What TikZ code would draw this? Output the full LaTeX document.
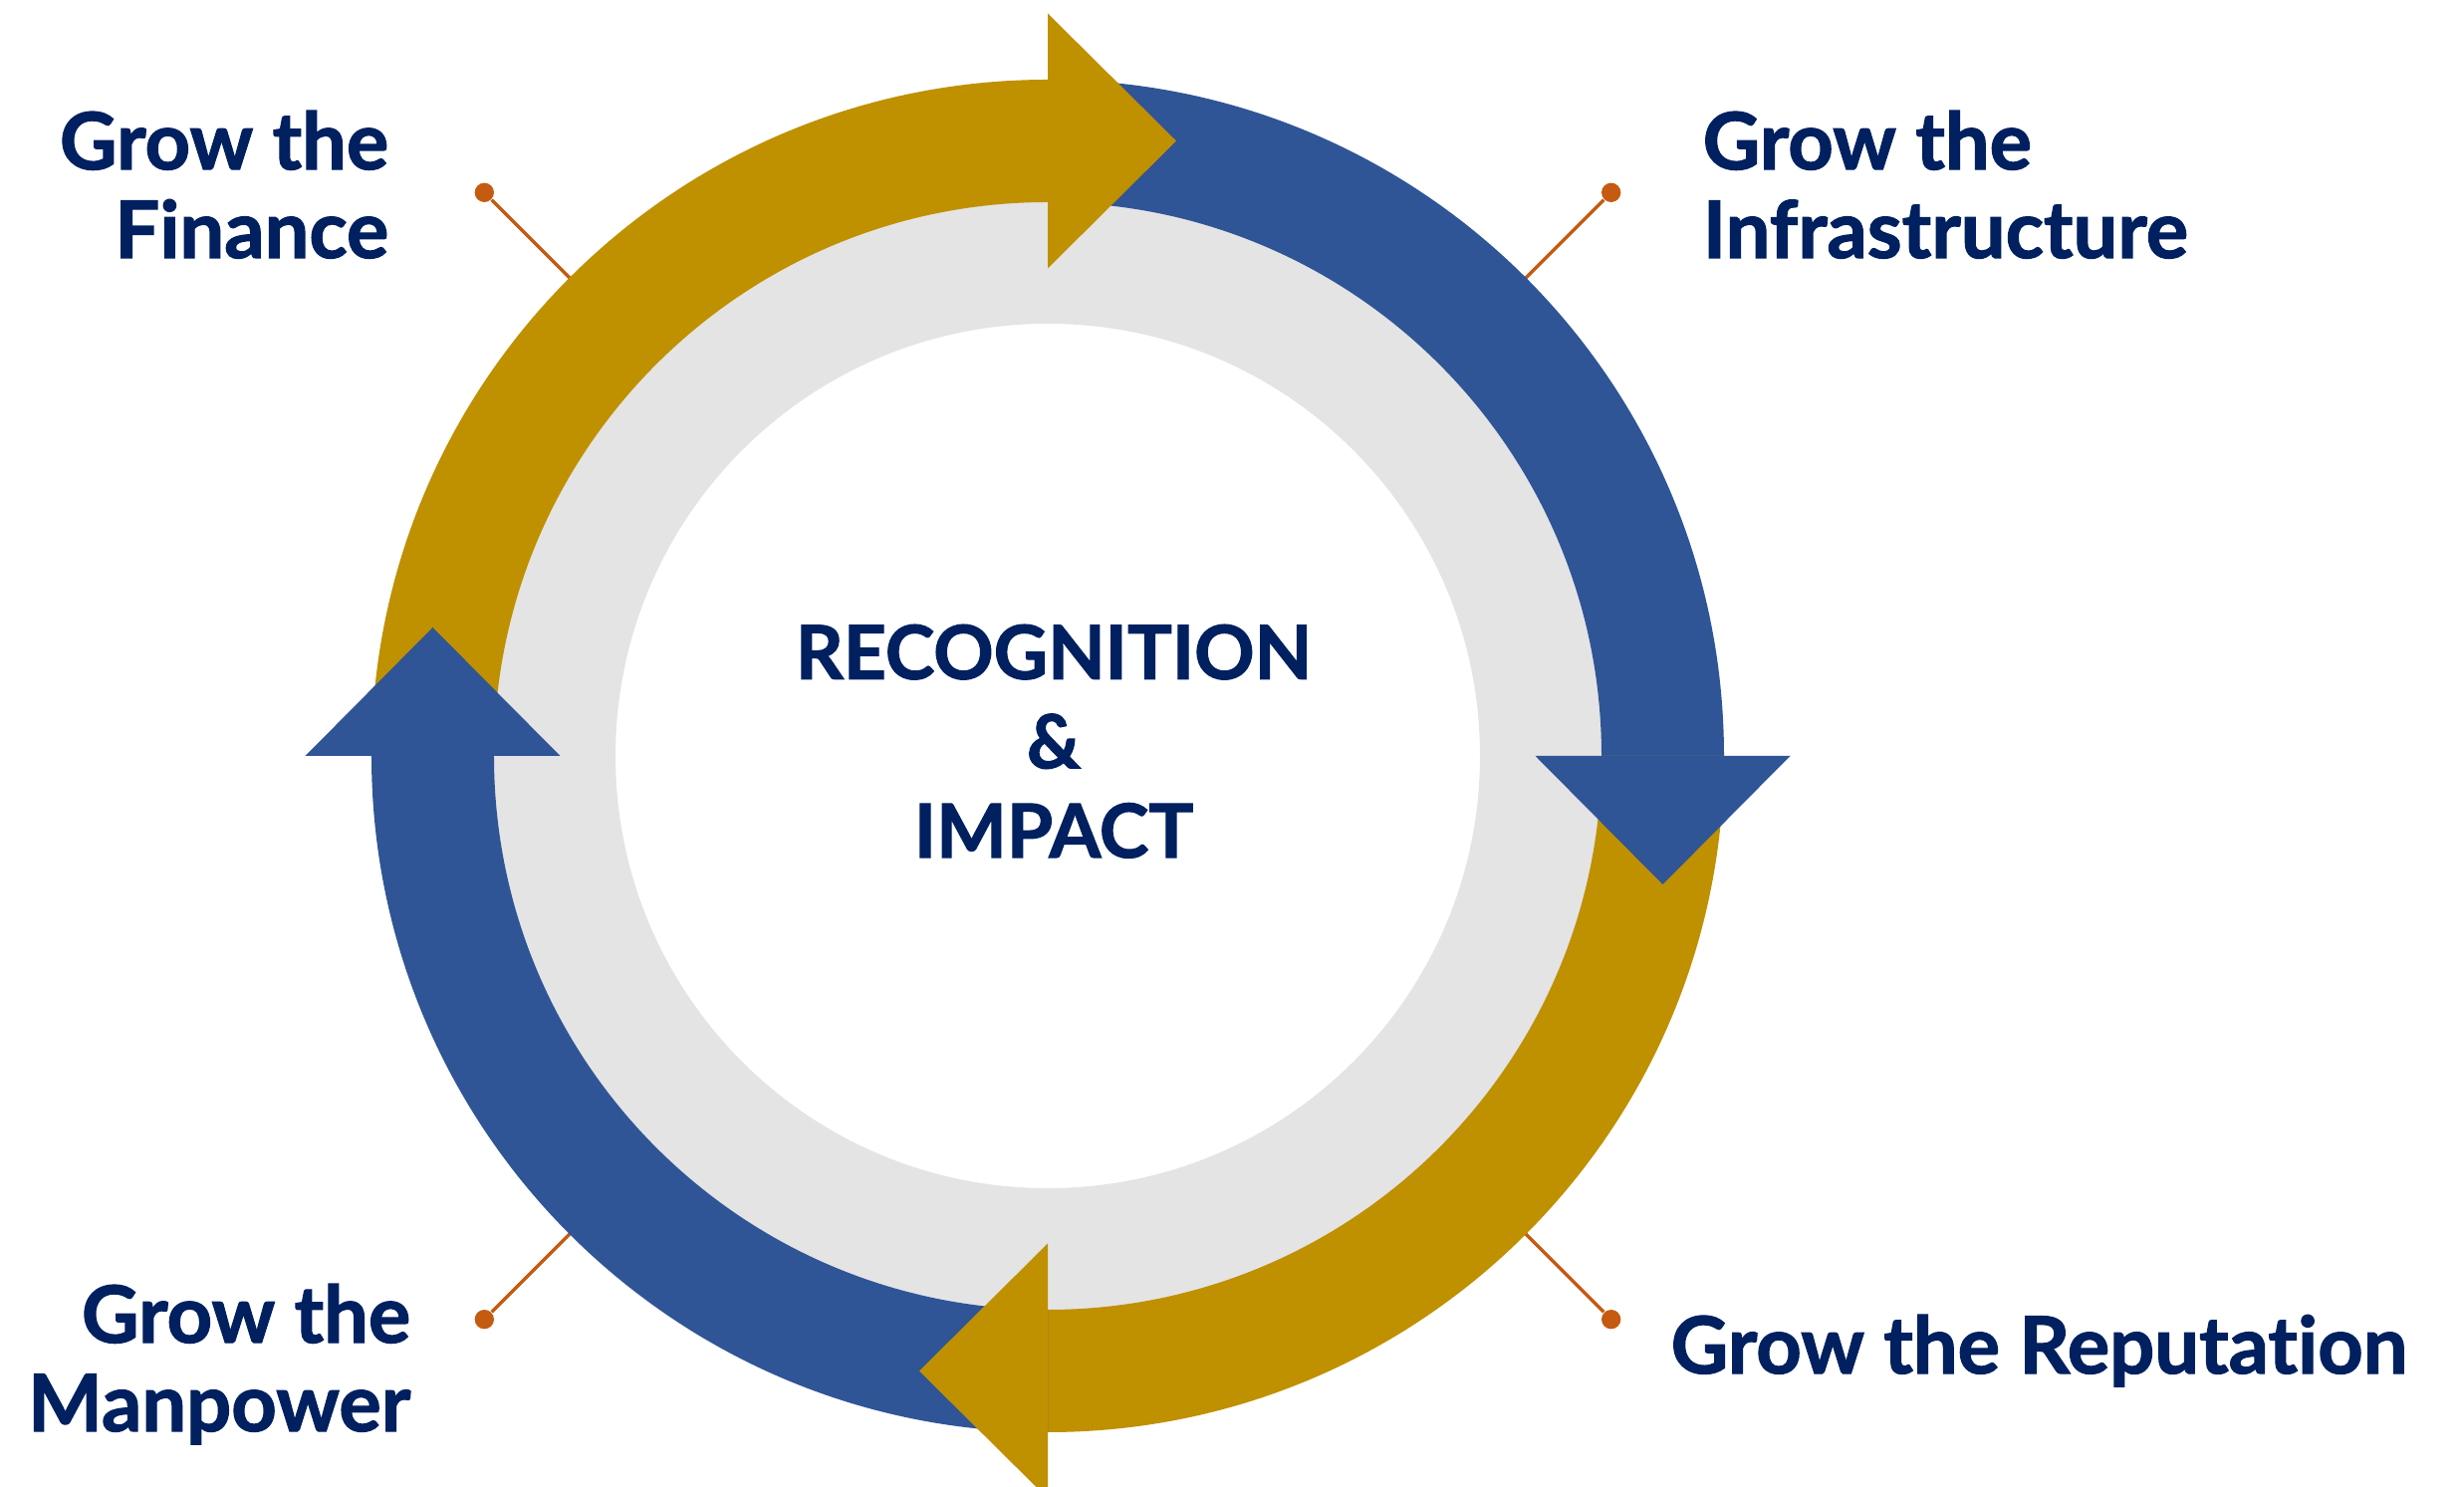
\documentclass[tikz,border=0pt]{standalone}
\usepackage{fontspec}
\setmainfont{Lato}[Ligatures=NoCommon, BoldFeatures={FakeBold=1.5}]
\usepackage{tikz}
\usetikzlibrary{positioning}

\definecolor{gold}{HTML}{BF9000}
\definecolor{ringblue}{HTML}{2F5597}
\definecolor{ringgray}{HTML}{E4E4E4}
\definecolor{navy}{HTML}{002060}
\definecolor{leaderorange}{HTML}{C55A11}

\tikzset{
  growtext/.style={font=\fontsize{22.6}{25.3}\selectfont\bf, text=navy, inner sep=0pt},
  centretext/.style={growtext, font=\fontsize{21.3}{25.5}\selectfont\bf},
  leader/.style={leaderorange, line width=1pt},
  leaderdot/.style={circle, fill=leaderorange, inner sep=0pt, minimum size=5.5pt},
}

\begin{document}
\begin{tikzpicture}
\useasboundingbox (-10.52,-7.34) rectangle (14.22,7.59);

% leader lines, drawn first so the ring hides their ends
\node[leaderdot] (fdot) at (135:8) {};
\node[leaderdot] (idot) at (45:8) {};
\node[leaderdot] (rdot) at (-45:8) {};
\node[leaderdot] (mdot) at (-135:8) {};
\coordinate (fend) at (135:6.7);
\coordinate (iend) at (45:6.7);
\coordinate (rend) at (-45:6.7);
\coordinate (mend) at (-135:6.7);
\draw[leader] (fdot) -- (fend);
\draw[leader] (idot) -- (iend);
\draw[leader] (rdot) -- (rend);
\draw[leader] (mdot) -- (mend);

% gray ring
\fill[ringgray, even odd rule] (0,0) circle (5.6) (0,0) circle (4.34);

% arrow bodies
\foreach \a/\c in {90/gold,0/ringblue,-90/gold,180/ringblue}
  \fill[\c] (\a+90:6.79) arc[start angle=\a+90, end angle=\a, radius=6.79]
    -- (\a:5.56) arc[start angle=\a, end angle=\a+90, radius=5.56] -- cycle;

% arrow heads on top
\foreach \a/\c in {90/gold,0/ringblue,-90/gold,180/ringblue}
  \fill[\c, rotate=\a-90] (0,4.895) -- (0,7.455) -- (1.29,6.175) -- cycle;

% texts (base = baseline of the last line)
\node[centretext, align=center, anchor=base] (centre) at (0.06,-1.02) {RECOGNITION\\\&\\IMPACT};
\node[growtext, align=right, anchor=base east] (finance) at (-6.61,5.00) {Grow the\\Finance};
\node[growtext, align=left, anchor=base west] (infra) at (6.57,5.00) {Grow the\\Infrastructure};
\node[growtext, anchor=base west] (reput) at (6.25,-6.20) {Grow the Reputation};
\node[growtext, align=right, anchor=base east] (manpower) at (-6.39,-6.78) {Grow the\\Manpower};

\end{tikzpicture}
\end{document}
